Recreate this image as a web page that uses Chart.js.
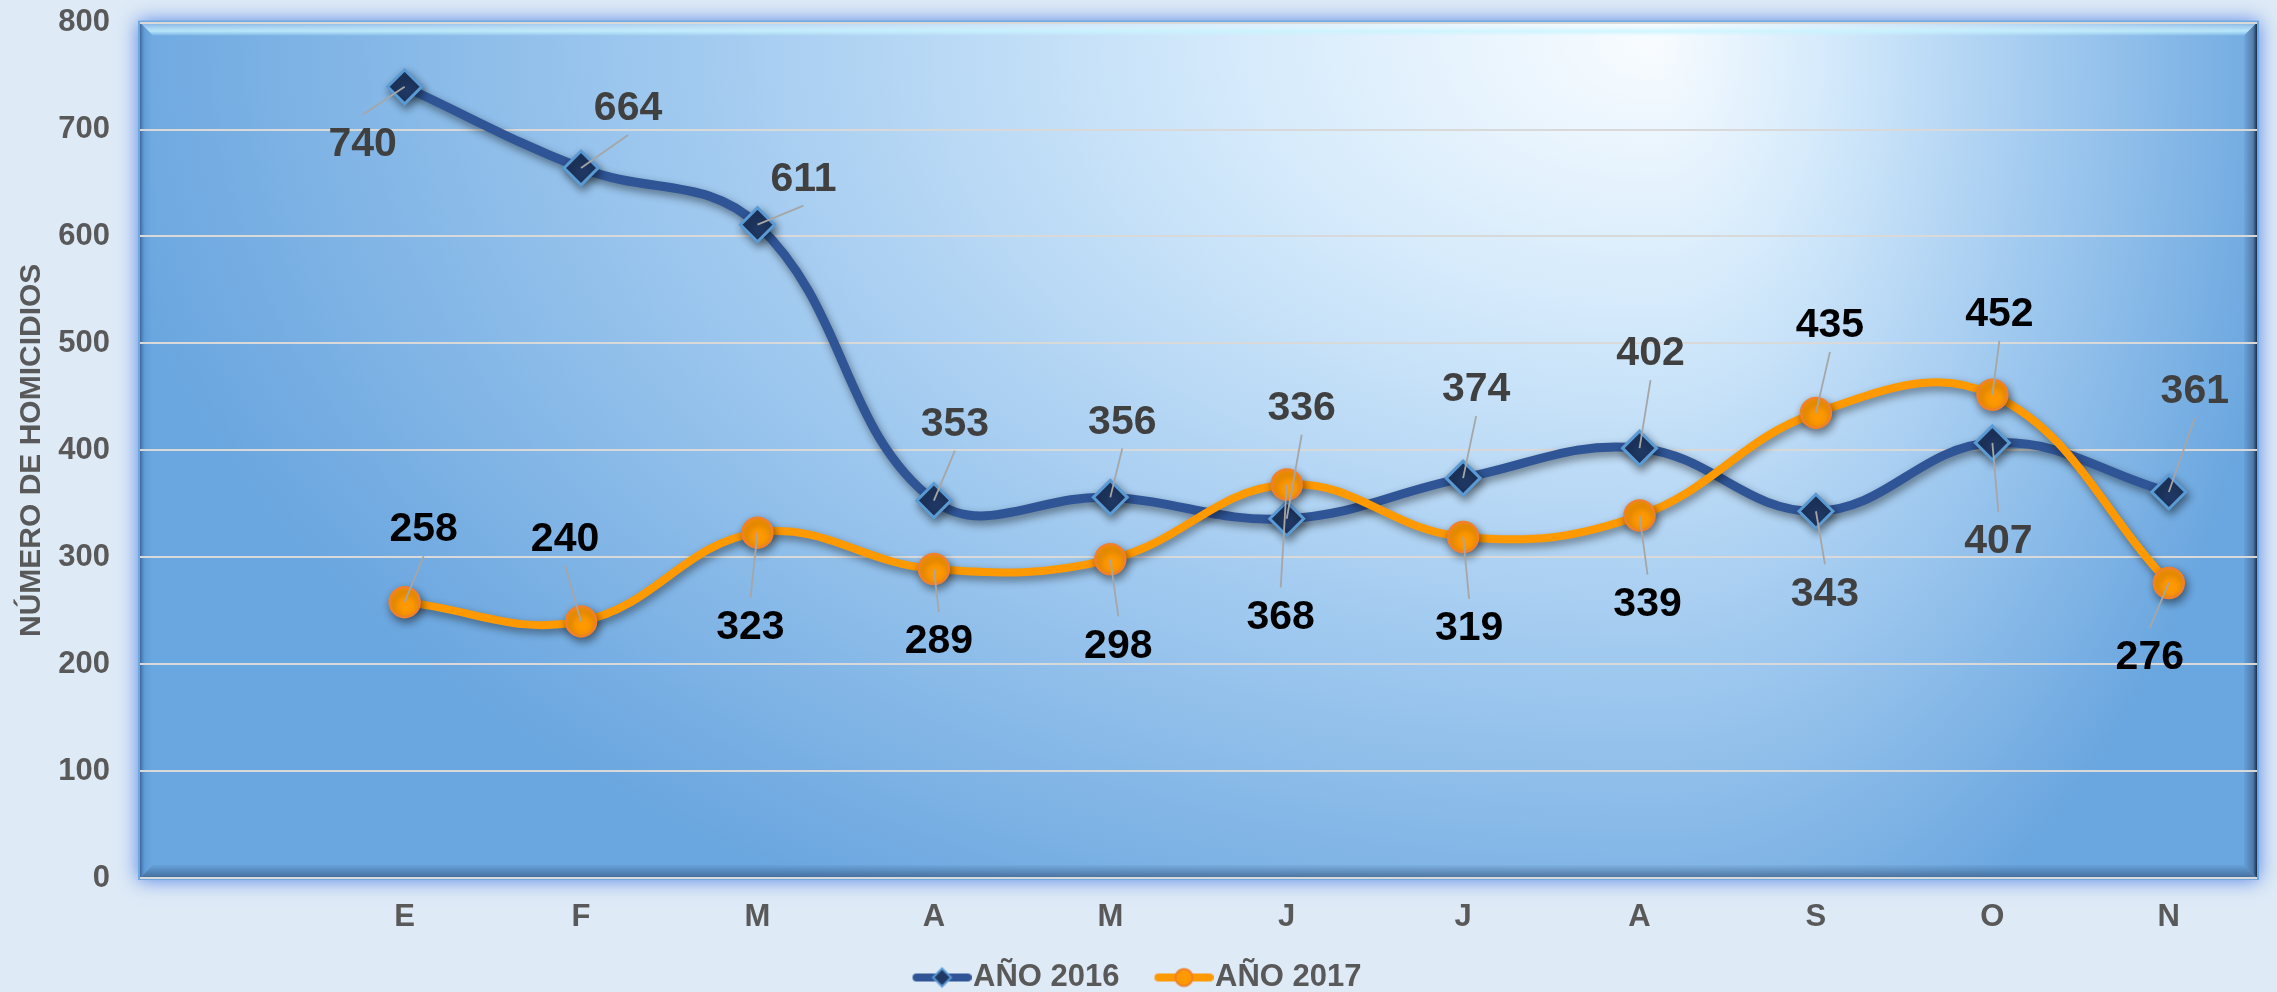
<!DOCTYPE html>
<html>
<head>
<meta charset="utf-8">
<script src="https://cdn.jsdelivr.net/npm/chart.js@4.4.0/dist/chart.umd.min.js"></script>
<style>
  html, body { margin: 0; padding: 0; background: #DEEAF6; }
</style>
</head>
<body>
<canvas id="myChart" width="2277" height="992"></canvas>
<script>
// datos
const meses = ['', 'E', 'F', 'M', 'A', 'M', 'J', 'J', 'A', 'S', 'O', 'N'];
const anio2016 = [null, 740, 664, 611, 353, 356, 336, 374, 402, 343, 407, 361];
const anio2017 = [null, 258, 240, 323, 289, 298, 368, 319, 339, 435, 452, 276];
const yTicks = [0, 100, 200, 300, 400, 500, 600, 700, 800];

// desplazamiento de cada etiqueta respecto a su punto (px)
const desf2016 = [null, [-42, 56], [47, -61], [46, -47], [21, -78], [12, -77], [15, -112], [13, -90], [11, -96], [9, 81], [6, 97], [26, -102]];
const desf2017 = [null, [19, -74], [-16, -84], [-7, 93], [5, 71], [8, 85], [-6, 131], [6, 90], [8, 87], [14, -89], [7, -82], [-19, 73]];
const desfases = [desf2016, desf2017];
const colorEtiqueta = ['#404040', '#000000'];

const fuente = '"Liberation Sans", Arial, sans-serif';
Chart.defaults.font.family = fuente;

// icono de leyenda: linea + marcador (la parte visible va a la derecha del lienzo)
function icono(tipo) {
  const c = document.createElement('canvas');
  c.width = 80; c.height = 24;
  const g = c.getContext('2d');
  g.lineCap = 'round';
  g.lineWidth = 8;
  g.strokeStyle = tipo === 'rombo' ? '#2F5597' : '#FF9900';
  g.beginPath(); g.moveTo(25, 12); g.lineTo(76, 12); g.stroke();
  g.lineWidth = 2;
  const mx = 50.5;
  if (tipo === 'rombo') {
    g.fillStyle = '#1F3864'; g.strokeStyle = '#5B9BD5';
    g.beginPath(); g.moveTo(mx, 3); g.lineTo(mx + 9, 12); g.lineTo(mx, 21); g.lineTo(mx - 9, 12); g.closePath();
    g.fill(); g.stroke();
  } else {
    g.fillStyle = '#FF9900'; g.strokeStyle = '#F0802A';
    g.beginPath(); g.arc(mx, 12, 8.5, 0, Math.PI * 2); g.fill(); g.stroke();
  }
  return c;
}
const iconos = [icono('rombo'), icono('circulo')];

const fondo = {
  id: 'fondo',
  beforeDraw(chart) {
    const { ctx, chartArea: a, width, height } = chart;
    ctx.save();
    ctx.fillStyle = '#DEEAF6';
    ctx.fillRect(0, 0, width, height);

    // halo exterior
    ctx.shadowColor = 'rgba(70,120,230,0.9)';
    ctx.shadowBlur = 18;
    ctx.fillStyle = '#6FA8E0';
    ctx.fillRect(a.left - 2, a.top - 2, a.width + 4, a.height + 4);
    ctx.shadowColor = 'transparent';
    ctx.shadowBlur = 0;

    // degradado radial, distinto a cada lado del centro
    const cx = Math.round(a.left + a.width * 0.715), cy = a.top + 20, ry = 1000;
    const mitad = (x0, x1, rx) => {
      ctx.save();
      ctx.beginPath(); ctx.rect(x0, a.top, x1 - x0, a.height); ctx.clip();
      ctx.translate(cx, cy); ctx.scale(rx, ry);
      const g = ctx.createRadialGradient(0, 0, 0, 0, 0, 1);
      g.addColorStop(0, '#F8FCFF');
      g.addColorStop(0.28, '#D3E9FB');
      g.addColorStop(0.6, '#A3CBF0');
      g.addColorStop(1, '#6AA6DF');
      ctx.fillStyle = g;
      ctx.fillRect(-3, -3, 6, 6);
      ctx.restore();
    };
    mitad(a.left, cx + 2, cx - a.left + 60);
    mitad(cx, a.right, a.right - cx + 40);

    // bisel
    const b = 13, L = a.left, R = a.right, T = a.top, B = a.bottom;
    const trap = (pts, grad) => {
      ctx.beginPath(); ctx.moveTo(pts[0][0], pts[0][1]);
      pts.slice(1).forEach(p => ctx.lineTo(p[0], p[1]));
      ctx.closePath(); ctx.fillStyle = grad; ctx.fill();
    };
    let g = ctx.createLinearGradient(0, T, 0, T + b);
    g.addColorStop(0, 'rgba(255,255,255,0.05)');
    g.addColorStop(0.65, 'rgba(200,245,255,0.8)');
    g.addColorStop(1, 'rgba(200,245,255,0.1)');
    trap([[L, T], [R, T], [R - b, T + b], [L + b, T + b]], g);
    g = ctx.createLinearGradient(L, 0, L + b, 0);
    g.addColorStop(0, 'rgba(30,60,100,0.6)');
    g.addColorStop(0.35, 'rgba(60,120,190,0.25)');
    g.addColorStop(1, 'rgba(90,150,210,0)');
    trap([[L, T], [L + b, T + b], [L + b, B - b], [L, B]], g);
    g = ctx.createLinearGradient(0, B - b, 0, B);
    g.addColorStop(0, 'rgba(40,70,110,0.05)');
    g.addColorStop(1, 'rgba(40,70,110,0.6)');
    trap([[L, B], [L + b, B - b], [R - b, B - b], [R, B]], g);
    g = ctx.createLinearGradient(R - b, 0, R, 0);
    g.addColorStop(0, 'rgba(20,40,70,0.05)');
    g.addColorStop(0.7, 'rgba(20,40,70,0.35)');
    g.addColorStop(1, 'rgba(15,30,55,0.9)');
    trap([[R, T], [R, B], [R - b, B - b], [R - b, T + b]], g);
    ctx.restore();
  }
};

const sombra = {
  id: 'sombra',
  beforeDatasetDraw(chart) {
    const ctx = chart.ctx;
    ctx.save();
    ctx.shadowColor = 'rgba(0,0,0,0.45)';
    ctx.shadowBlur = 8;
    ctx.shadowOffsetX = 2;
    ctx.shadowOffsetY = 4;
  },
  afterDatasetDraw(chart) {
    chart.ctx.restore();
  }
};

const etiquetas = {
  id: 'etiquetas',
  afterDatasetsDraw(chart) {
    const ctx = chart.ctx;
    ctx.save();
    // lineas guia
    ctx.strokeStyle = '#A6A6A6';
    ctx.lineWidth = 1.8;
    chart.data.datasets.forEach((ds, di) => {
      chart.getDatasetMeta(di).data.forEach((pt, i) => {
        if (ds.data[i] == null) return;
        const [dx, dy] = desfases[di][i];
        if (Math.abs(dy) < 45) return;
        const ey = pt.y + dy + (dy < 0 ? 28 : -28);
        ctx.beginPath(); ctx.moveTo(pt.x, pt.y); ctx.lineTo(pt.x + dx, ey); ctx.stroke();
      });
    });
    ctx.font = 'bold 41px ' + fuente;
    ctx.textAlign = 'center';
    ctx.textBaseline = 'middle';
    chart.data.datasets.forEach((ds, di) => {
      ctx.fillStyle = colorEtiqueta[di];
      chart.getDatasetMeta(di).data.forEach((pt, i) => {
        const v = ds.data[i];
        if (v == null) return;
        const [dx, dy] = desfases[di][i];
        ctx.fillText(String(v), pt.x + dx, pt.y + dy + 2);
      });
    });
    ctx.restore();
  }
};

const ctx = document.getElementById('myChart');

new Chart(ctx, {
  type: 'line',
  data: {
    labels: meses,
    datasets: [{
      label: 'AÑO 2016',
      data: anio2016,
      order: 1,
      borderColor: '#2F5597',
      borderWidth: 9,
      tension: 0.4,
      pointStyle: 'rectRot',
      pointRadius: 17,
      pointBackgroundColor: '#1F3864',
      pointBorderColor: '#5B9BD5',
      pointBorderWidth: 3
    }, {
      label: 'AÑO 2017',
      data: anio2017,
      order: 0,
      borderColor: '#FF9900',
      borderWidth: 8,
      tension: 0.4,
      pointStyle: 'circle',
      pointRadius: 15,
      pointBackgroundColor: '#FF9900',
      pointBorderColor: '#F0802A',
      pointBorderWidth: 2.5
    }]
  },
  options: {
    responsive: false,
    animation: false,
    devicePixelRatio: 1,
    layout: { padding: { left: 10, right: 20, top: 22, bottom: 0 } },
    scales: {
      x: {
        offset: true,
        grid: { display: false, drawTicks: false },
        border: { display: false },
        ticks: { color: '#595959', font: { size: 31, weight: 'bold' }, padding: 21 },
        afterFit: s => { s.height = 56; }
      },
      y: {
        min: 0,
        max: 800,
        afterBuildTicks: s => { s.ticks = yTicks.map(v => ({ value: v })); },
        grid: { color: '#D9D9D9', lineWidth: 2, drawTicks: true, tickLength: 26, tickColor: 'rgba(0,0,0,0)' },
        border: { display: false },
        ticks: { color: '#595959', font: { size: 31, weight: 'bold' }, padding: 4 },
        title: {
          display: true,
          text: 'NÚMERO DE HOMICIDIOS',
          color: '#595959',
          font: { size: 30, weight: 'bold' },
          padding: { top: 4, bottom: 0 }
        },
        afterFit: s => { s.width = 130; }
      }
    },
    plugins: {
      tooltip: { enabled: false },
      legend: {
        position: 'bottom',
        maxHeight: 58,
        labels: {
          usePointStyle: true,
          pointStyleWidth: 52,
          padding: 28,
          color: '#595959',
          font: { size: 31, weight: 'bold' },
          sort: (a, b) => a.datasetIndex - b.datasetIndex,
          generateLabels(chart) {
            const items = Chart.defaults.plugins.legend.labels.generateLabels(chart);
            items.forEach(it => { it.pointStyle = iconos[it.datasetIndex]; });
            return items;
          }
        }
      }
    }
  },
  plugins: [fondo, sombra, etiquetas]
});
</script>
</body>
</html>
